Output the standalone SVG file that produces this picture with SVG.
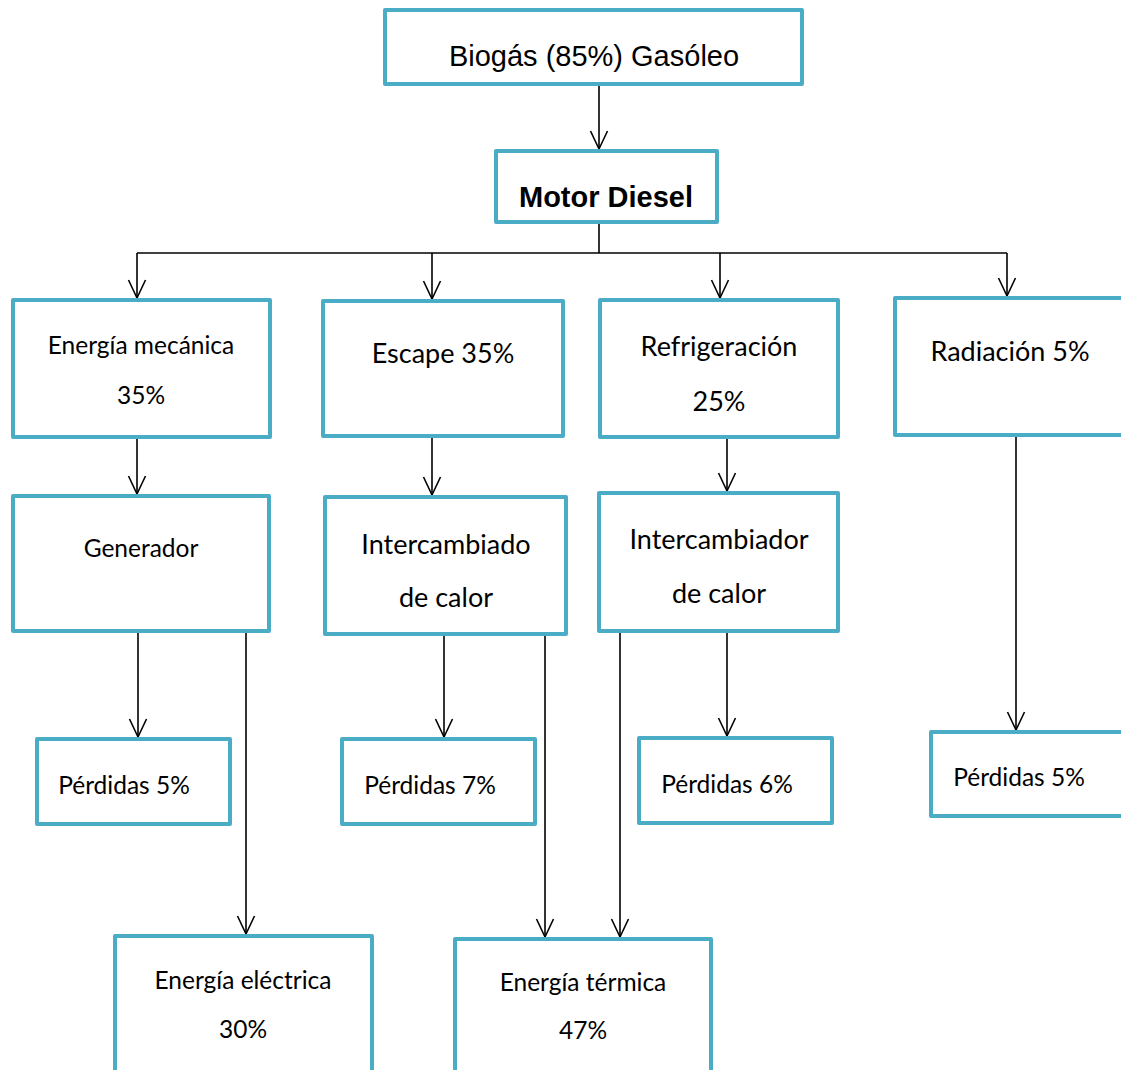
<svg xmlns="http://www.w3.org/2000/svg" width="1121" height="1070" viewBox="0 0 1121 1070">
<style>
.box{fill:#fff;stroke:#4bacc6;stroke-width:4;stroke-linejoin:round}
.c{fill:none;stroke:#000;stroke-width:1.6}
.t{font-family:Lato,"Open Sans",sans-serif;font-size:24.5px;fill:#000;text-anchor:middle}
.L{font-size:27px}
.a{font-family:"Liberation Sans",Arial,sans-serif;font-size:29px;fill:#000;text-anchor:middle}
.b{font-family:"Liberation Sans",Arial,sans-serif;font-size:29px;font-weight:bold;fill:#000;text-anchor:middle}
</style>
<defs>
<marker id="ar" markerUnits="userSpaceOnUse" markerWidth="22" markerHeight="20" refX="20" refY="10" orient="auto" viewBox="0 0 22 20">
<polyline points="2,1.5 20,10 2,18.5" fill="none" stroke="#000" stroke-width="1.6"/>
</marker>
</defs>
<rect width="1121" height="1070" fill="#fff"/>
<g id="connectors">
<line class="c" x1="599" y1="86" x2="599" y2="149" marker-end="url(#ar)"/>
<polyline class="c" points="599,224 599,253"/>
<polyline class="c" points="137,253 1007,253"/>
<line class="c" x1="137" y1="253" x2="137" y2="298" marker-end="url(#ar)"/>
<line class="c" x1="432" y1="253" x2="432" y2="299" marker-end="url(#ar)"/>
<line class="c" x1="720" y1="253" x2="720" y2="298" marker-end="url(#ar)"/>
<line class="c" x1="1007" y1="253" x2="1007" y2="296" marker-end="url(#ar)"/>
<line class="c" x1="137" y1="439" x2="137" y2="494" marker-end="url(#ar)"/>
<line class="c" x1="432" y1="438" x2="432" y2="495" marker-end="url(#ar)"/>
<line class="c" x1="727" y1="439" x2="727" y2="491" marker-end="url(#ar)"/>
<line class="c" x1="138" y1="633" x2="138" y2="737" marker-end="url(#ar)"/>
<line class="c" x1="246" y1="631" x2="246" y2="934" marker-end="url(#ar)"/>
<line class="c" x1="444" y1="636" x2="444" y2="737" marker-end="url(#ar)"/>
<line class="c" x1="545" y1="632" x2="545" y2="937" marker-end="url(#ar)"/>
<line class="c" x1="620" y1="632" x2="620" y2="937" marker-end="url(#ar)"/>
<line class="c" x1="727" y1="633" x2="727" y2="736" marker-end="url(#ar)"/>
<line class="c" x1="1016" y1="437" x2="1016" y2="730" marker-end="url(#ar)"/>
</g>
<g id="n-biogas"><rect class="box" x="385" y="10" width="417" height="74"/><text class="a" x="594" y="66">Biogás (85%) Gasóleo</text></g>
<g id="n-motor"><rect class="box" x="496" y="151" width="221" height="71"/><text class="b" x="606" y="207">Motor Diesel</text></g>
<g id="n-mecanica"><rect class="box" x="13" y="300" width="257" height="137"/><text class="t" x="141" y="354">Energía mecánica</text><text class="t" x="141" y="404">35%</text></g>
<g id="n-escape"><rect class="box" x="323" y="301" width="240" height="135"/><text class="t L" x="443" y="363">Escape 35%</text></g>
<g id="n-refrig"><rect class="box" x="600" y="300" width="238" height="137"/><text class="t L" x="719" y="356">Refrigeración</text><text class="t L" x="719" y="411">25%</text></g>
<g id="n-radiacion"><rect class="box" x="895" y="298" width="240" height="137"/><text class="t L" x="1010" y="361">Radiación 5%</text></g>
<g id="n-generador"><rect class="box" x="13" y="496" width="256" height="135"/><text class="t" x="141" y="557">Generador</text></g>
<g id="n-interc1"><rect class="box" x="325" y="497" width="241" height="137"/><text class="t L" x="446" y="554">Intercambiado</text><text class="t L" x="446" y="607">de calor</text></g>
<g id="n-interc2"><rect class="box" x="599" y="493" width="239" height="138"/><text class="t L" x="719" y="549">Intercambiador</text><text class="t L" x="719" y="603">de calor</text></g>
<g id="n-perd1"><rect class="box" x="37" y="739" width="193" height="85"/><text class="t" x="124" y="794">Pérdidas 5%</text></g>
<g id="n-perd2"><rect class="box" x="342" y="739" width="193" height="85"/><text class="t" x="430" y="794">Pérdidas 7%</text></g>
<g id="n-perd3"><rect class="box" x="639" y="738" width="193" height="85"/><text class="t" x="727" y="793">Pérdidas 6%</text></g>
<g id="n-perd4"><rect class="box" x="931" y="732" width="210" height="84"/><text class="t" x="1019" y="786">Pérdidas 5%</text></g>
<g id="n-electrica"><rect class="box" x="115" y="936" width="257" height="160"/><text class="t" x="243" y="989">Energía eléctrica</text><text class="t" x="243" y="1038">30%</text></g>
<g id="n-termica"><rect class="box" x="455" y="939" width="256" height="160"/><text class="t" x="583" y="991">Energía térmica</text><text class="t" x="583" y="1039">47%</text></g>
</svg>
